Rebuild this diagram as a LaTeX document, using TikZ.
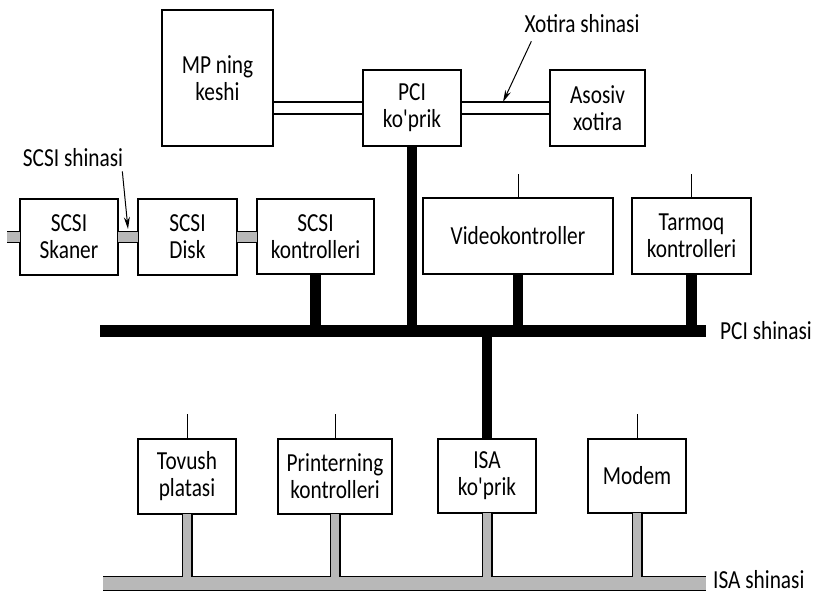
\documentclass[tikz,border=0pt]{standalone}
\usepackage{fontspec}
\setmainfont{Carlito}[FakeStretch=0.82, Ligatures=TeXOff]
\usetikzlibrary{arrows.meta,positioning,calc}
\tikzset{
  unit/.style={rectangle, draw, line width=1.1pt, align=center, inner sep=0pt, outer sep=0pt, font=\fontsize{26}{27}\selectfont},
  buslbl/.style={anchor=base west, inner sep=0pt, font=\fontsize{26}{27}\selectfont},
  pcibus/.style={line width=12pt},
  pcidrop/.style={line width=10.5pt},
  membus/.style={line width=1.1pt},
  stub/.style={line width=1pt},
  greyout/.style={line width=12pt},
  greyin/.style={line width=9.6pt, black!28},
  isaout/.style={line width=15pt},
  isain/.style={line width=12.6pt, black!28},
  dropout/.style={line width=11pt},
  dropin/.style={line width=8.6pt, black!28},
  arr/.style={-{Stealth[length=12pt,width=6pt]}, line width=1pt}
}

\begin{document}
\begin{tikzpicture}[x=1pt,y=-1pt]
\useasboundingbox (0,0) rectangle (816,593);

% upper level
\node[unit, minimum width=111pt, minimum height=136pt] (mp) at (217.5,78) {MP ning\\keshi};
\node[unit, minimum width=98pt, minimum height=76pt] (pcib) at (412,108) {PCI\\ko'prik};
\node[unit, minimum width=95pt, minimum height=76pt] (mem) at (597.5,108) {Asosiv\\xotira};
\node[font=\fontsize{26}{27}\selectfont, inner sep=0pt] (xlbl) at (582,24) {Xotira shinasi};
\coordinate (memtip) at (503,102);

% PCI devices
\node[unit, minimum width=98pt, minimum height=76pt] (skaner) at (69,237) {SCSI\\Skaner};
\node[unit, minimum width=99pt, minimum height=76pt] (disk) at (187.5,237) {SCSI\\Disk};
\node[unit, minimum width=117pt, minimum height=75pt] (scsik) at (315.5,236.5) {SCSI\\kontrolleri};
\node[unit, minimum width=190pt, minimum height=76pt] (video) at (518,236) {Videokontroller};
\node[unit, minimum width=119pt, minimum height=76pt] (tarmoq) at (691.5,236) {Tarmoq\\kontrolleri};
\node[font=\fontsize{26}{27}\selectfont, inner sep=0pt] (slbl) at (73,158) {SCSI shinasi};
\coordinate (scsitip) at (128,229);
\coordinate (scsiL) at (7,237);

% ISA devices
\node[unit, minimum width=98pt, minimum height=75pt] (tovush) at (187,476.5) {Tovush\\platasi};
\node[unit, minimum width=114pt, minimum height=75pt] (printer) at (335,476.5) {Printerning\\kontrolleri};
\node[unit, minimum width=98pt, minimum height=74pt] (isab) at (487,476) {ISA\\ko'prik};
\node[unit, minimum width=98pt, minimum height=74pt] (modem) at (637,476) {Modem};

% buses
\coordinate (pciL) at (100,331);
\coordinate (pciR) at (706,331);
\coordinate (isaL) at (103,583.5);
\coordinate (isaR) at (706,583.5);
\node[buslbl] (pcilbl) at (720,339) {PCI shinasi};
\node[buslbl] (isalbl) at (713,588) {ISA shinasi};

% memory bus
\draw[membus] ([yshift=6pt]mp.east |- pcib.west) -- ([yshift=6pt]pcib.west);
\draw[membus] ([yshift=-6pt]mp.east |- pcib.west) -- ([yshift=-6pt]pcib.west);
\draw[membus] ([yshift=6pt]pcib.east) -- ([yshift=6pt]mem.west);
\draw[membus] ([yshift=-6pt]pcib.east) -- ([yshift=-6pt]mem.west);
\draw[arr] ([xshift=7pt,yshift=-8pt]xlbl.south west) -- (memtip);

% SCSI bus
\draw[greyout] (scsiL) -- (skaner.west);
\draw[greyout] (skaner.east) -- (disk.west);
\draw[greyout] (disk.east) -- (scsik.west |- disk.east);
\draw[greyin] (scsiL) -- (skaner.west);
\draw[greyin] (skaner.east) -- (disk.west);
\draw[greyin] (disk.east) -- (scsik.west |- disk.east);
\draw[arr] ([xshift=-1pt,yshift=-4pt]slbl.south east) -- (scsitip);

% PCI bus
\draw[pcibus] (pciL) -- (pciR);
\draw[pcidrop] (pcib.south) -- (pcib.south |- pciL);
\draw[pcidrop] (scsik.south) -- (scsik.south |- pciL);
\draw[pcidrop] (video.south) -- (video.south |- pciL);
\draw[pcidrop] (tarmoq.south) -- (tarmoq.south |- pciL);
\draw[pcidrop] (isab.north) -- (isab.north |- pciL);
\draw[stub] (video.north) -- ++(0,-24);
\draw[stub] (tarmoq.north) -- ++(0,-24);

% ISA bus
\draw[isaout] (isaL) -- (isaR);
\foreach \dev in {tovush,printer,isab,modem}
  \draw[dropout] (\dev.south) -- (\dev.south |- isaL);
\draw[isain] (isaL) -- (isaR);
\foreach \dev in {tovush,printer,isab,modem}
  \draw[dropin] (\dev.south) -- (\dev.south |- isaL);
\foreach \dev in {tovush,printer,modem}
  \draw[stub] (\dev.north) -- ++(0,-25);
\end{tikzpicture}
\end{document}
